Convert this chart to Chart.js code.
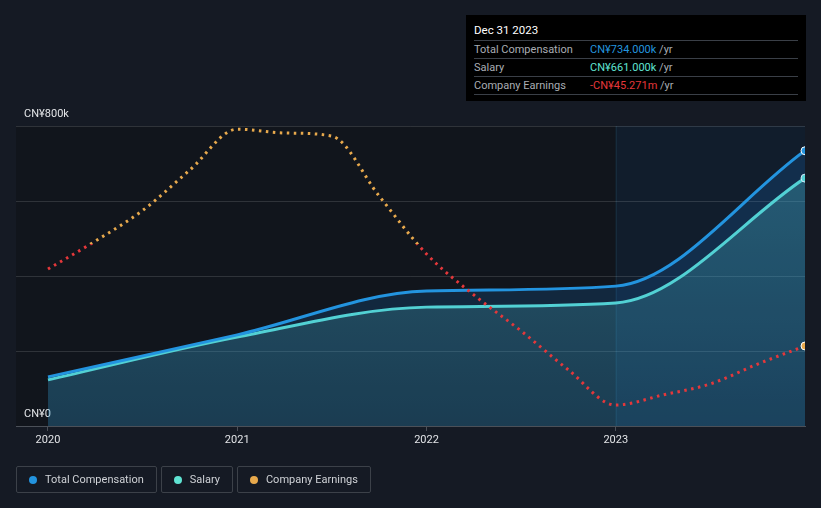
<!DOCTYPE html>
<html>
<head>
<meta charset="utf-8">
<script src="https://cdn.jsdelivr.net/npm/chart.js@4.4.1/dist/chart.umd.min.js"></script>
<style>
  body { margin: 0; background: #151a24; font-family: Roboto, "Noto Sans", sans-serif; }
  #wrap { position: relative; width: 821px; height: 508px; }
  #tip { position: absolute; left: 466px; top: 15px; width: 324px; height: 78px; background: #000; padding: 4px 8px; color: #fff; font-size: 11px; }
  #tip .title { height: 21px; line-height: 23px; font-size: 11.5px; }
  #tip .row { height: 17px; line-height: 17px; border-top: 1px solid #3a3f47; color: #a9adb3; display: flex; }
  #tip .row:last-child { border-bottom: 1px solid #3a3f47; }
  #tip .lab { width: 116px; }
  #legend { position: absolute; left: 16px; top: 466px; display: flex; gap: 4px; }
  .item { height: 25px; border: 1px solid #3c4149; border-radius: 2px; display: flex; align-items: center; padding: 0 12px; color: #cfd2d6; font-size: 11px; }
  .dot { width: 8px; height: 8px; border-radius: 50%; margin-right: 8px; }
</style>
</head>
<body>
<div id="wrap">
  <canvas id="chart" width="821" height="508"></canvas>
  <div id="tip">
    <div class="title">Dec 31 2023</div>
    <div class="row"><span class="lab">Total Compensation</span><span><span style="color:#2394df">CN¥734.000k</span> /yr</span></div>
    <div class="row"><span class="lab">Salary</span><span><span style="color:#5fe3d2">CN¥661.000k</span> /yr</span></div>
    <div class="row"><span class="lab">Company Earnings</span><span><span style="color:#e5373a">-CN¥45.271m</span> /yr</span></div>
  </div>
  <div id="legend">
    <div class="item"><span class="dot" style="background:#2394df"></span>Total Compensation</div>
    <div class="item"><span class="dot" style="background:#5fe3d2"></span>Salary</div>
    <div class="item"><span class="dot" style="background:#e8a94c"></span>Company Earnings</div>
  </div>
</div>
<script>
// compensation, CN¥ thousands, at year ends
var compDates = [2020, 2021, 2022, 2023, 2024];
var totalComp = [131, 243, 360, 373, 734];
var salary = [123, 237, 317, 328, 661];

// company earnings, CN¥ millions, quarterly
var earnDates = [2020, 2020.25, 2020.5, 2020.75, 2021, 2021.25, 2021.5, 2021.75, 2022,
                 2022.25, 2022.5, 2022.75, 2023, 2023.25, 2023.5, 2023.75, 2024];
var earnings = [-11.1, 1.3, 14.9, 32.9, 51.0, 49.3, 47.9, 21.3, -4.4,
                -22.6, -38.6, -55.9, -71.5, -67.0, -62.1, -53.3, -45.271];

var yearTicks = [2020, 2021, 2022, 2023];

var blue = '#2394df', teal = '#5fe3d2', earnPos = '#e8a94c', earnNeg = '#e5373a';

function pts(xs, ys, mult) {
  return xs.map(function (x, i) { return { x: x, y: ys[i] * mult }; });
}
function lastOnly(r) {
  return function (c) { return c.dataIndex === c.dataset.data.length - 1 ? r : 0; };
}

var backdrop = {
  id: 'backdrop',
  beforeDraw: function (chart) {
    var a = chart.chartArea, ctx = chart.ctx, x = chart.scales.x;
    ctx.save();
    ctx.fillStyle = '#11151c';
    ctx.fillRect(a.left, a.top, a.right - a.left, a.bottom - a.top);
    var hx = x.getPixelForValue(2023);
    ctx.fillStyle = 'rgba(20,80,140,0.15)';
    ctx.fillRect(hx, a.top, a.right - hx, a.bottom - a.top);
    ctx.fillStyle = '#1a3142';
    ctx.fillRect(hx, a.top, 1, a.bottom - a.top);
    ctx.restore();
  }
};

new Chart(document.getElementById('chart'), {
  type: 'line',
  data: {
    datasets: [{
      label: 'Total Compensation',
      data: pts(compDates, totalComp, 1000),
      borderColor: blue,
      borderWidth: 3,
      backgroundColor: 'rgba(25,130,220,0.18)',
      fill: 'origin',
      cubicInterpolationMode: 'monotone',
      pointRadius: lastOnly(4),
      pointBackgroundColor: blue,
      pointBorderColor: '#fff',
      pointBorderWidth: 1,
      yAxisID: 'y',
      order: 1
    }, {
      label: 'Salary',
      data: pts(compDates, salary, 1000),
      borderColor: teal,
      borderWidth: 3,
      backgroundColor: function (c) {
        var a = c.chart.chartArea;
        if (!a) return 'rgba(90,210,210,0.2)';
        var g = c.chart.ctx.createLinearGradient(0, a.top, 0, a.bottom);
        g.addColorStop(0, 'rgba(95,215,210,0.32)');
        g.addColorStop(1, 'rgba(95,215,210,0.13)');
        return g;
      },
      fill: 'origin',
      cubicInterpolationMode: 'monotone',
      pointRadius: lastOnly(4),
      pointBackgroundColor: teal,
      pointBorderColor: '#fff',
      pointBorderWidth: 1,
      yAxisID: 'y',
      order: 2
    }, {
      label: 'Company Earnings',
      data: pts(earnDates, earnings, 1),
      borderColor: function (c) {
        var ch = c.chart, a = ch.chartArea;
        if (!a) return earnPos;
        var y0 = ch.scales.y2.getPixelForValue(0);
        var s = Math.min(Math.max((y0 - a.top) / (a.bottom - a.top), 0), 1);
        var g = ch.ctx.createLinearGradient(0, a.top, 0, a.bottom);
        g.addColorStop(0, earnPos); g.addColorStop(s, earnPos);
        g.addColorStop(s, earnNeg); g.addColorStop(1, earnNeg);
        return g;
      },
      borderWidth: 3,
      borderDash: [2.5, 4.5],
      fill: false,
      cubicInterpolationMode: 'monotone',
      pointRadius: lastOnly(4),
      pointBackgroundColor: earnPos,
      pointBorderColor: '#fff',
      pointBorderWidth: 1,
      yAxisID: 'y2',
      order: 0
    }]
  },
  options: {
    responsive: false,
    animation: false,
    layout: { padding: { left: 0, right: 16, top: 126, bottom: 0 } },
    plugins: { legend: { display: false }, tooltip: { enabled: false } },
    scales: {
      x: {
        type: 'linear',
        min: 2019.831,
        max: 2024,
        afterBuildTicks: function (s) { s.ticks = yearTicks.map(function (v) { return { value: v }; }); },
        afterFit: function (s) { s.height = 82; },
        grid: { drawOnChartArea: false, drawTicks: true, tickLength: 5, color: '#4b5058' },
        border: { color: '#4b5058' },
        ticks: { color: '#e2e4e7', padding: 3, font: { family: 'Roboto', size: 11 }, callback: function (v) { return String(v); } }
      },
      y: {
        min: 0,
        max: 800000,
        afterFit: function (s) { s.width = 16; },
        ticks: {
          stepSize: 200000,
          mirror: true,
          padding: 8,
          labelOffset: -12,
          color: '#e2e4e7',
          font: { family: 'Roboto', size: 11 },
          callback: function (v) { return v === 0 ? 'CN¥0' : (v === 800000 ? 'CN¥800k' : ''); }
        },
        grid: { color: 'rgba(255,255,255,0.13)', drawTicks: false },
        border: { display: false }
      },
      y2: { display: false, min: -80.8, max: 52.4 }
    }
  },
  plugins: [backdrop]
});
</script>
</body>
</html>
